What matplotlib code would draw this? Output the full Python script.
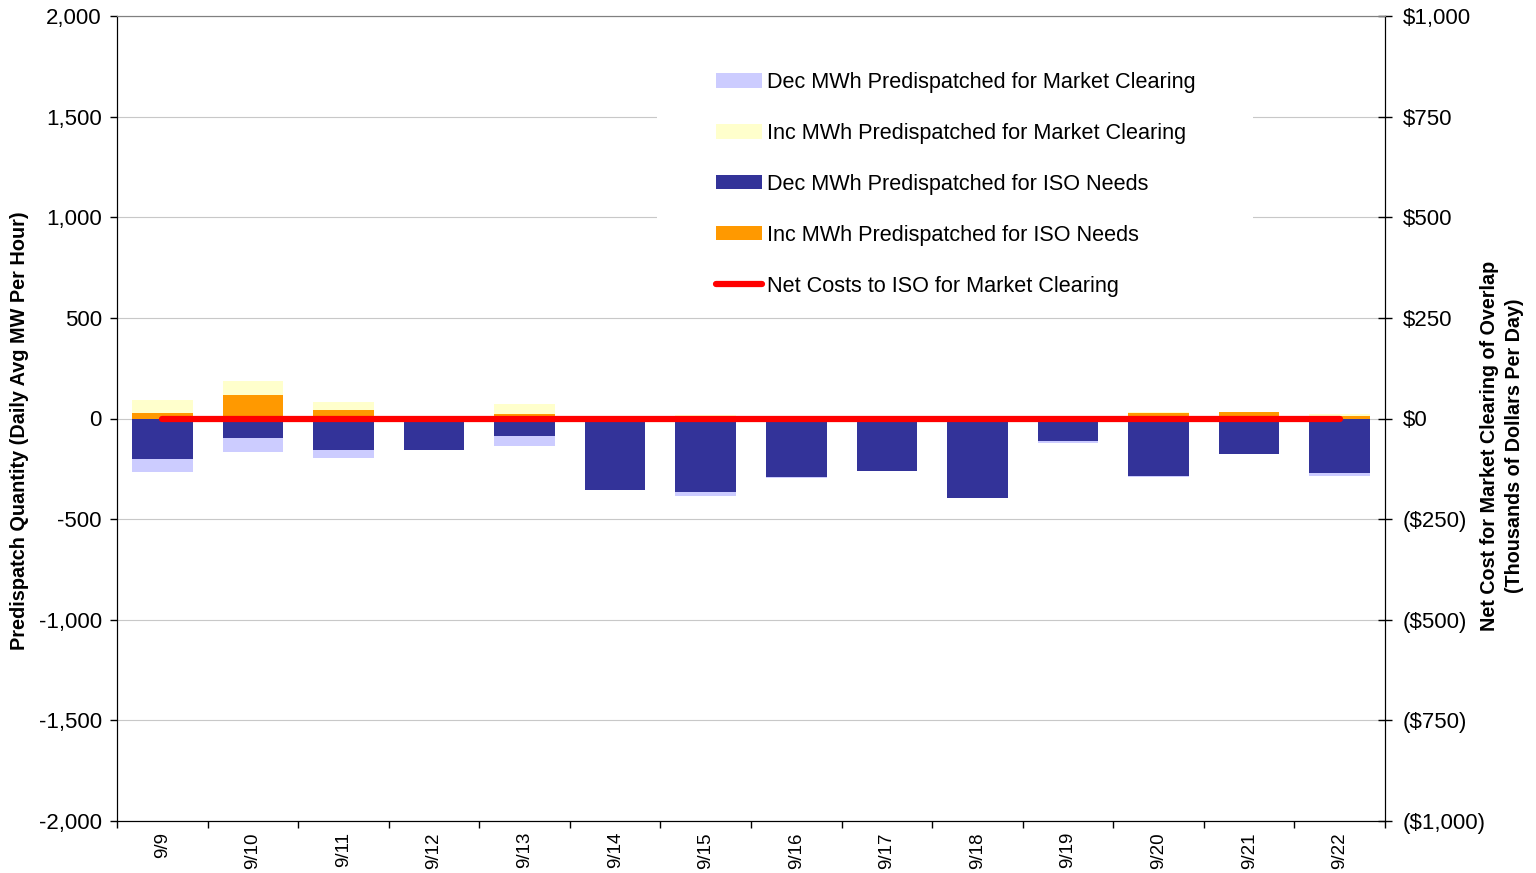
import matplotlib
matplotlib.use('Agg')
import matplotlib.pyplot as plt
from matplotlib.patches import Rectangle
from matplotlib.ticker import FuncFormatter, MultipleLocator
import numpy as np

plt.rcParams['font.family'] = ['Liberation Sans', 'DejaVu Sans']

# data (MW, daily average)
days = ['9/9', '9/10', '9/11', '9/12', '9/13', '9/14', '9/15',
        '9/16', '9/17', '9/18', '9/19', '9/20', '9/21', '9/22']
dec_iso = [-201, -97, -157, -157, -87, -355, -365, -289, -261, -395, -112, -286, -175, -271]
dec_mkt = [-65, -70, -39, 0, -50, 0, -20, -7, 0, 0, -10, -5, 0, -15]
inc_iso = [29, 118, 42, 0, 23, 0, 0, 0, 0, 0, 0, 27, 32, 12]
inc_mkt = [64, 68, 40, 0, 51, 0, 15, 3, 0, 0, 0, 3, 0, 12]
net_cost = [0, 0, 0, 0, 0, 0, 0, 0, 0, 0, 0, 0, 0, 0]  # thousands of $

c_dec_mkt = '#CCCCFF'
c_inc_mkt = '#FFFFCC'
c_dec_iso = '#333399'
c_inc_iso = '#FF9900'

fig = plt.figure(figsize=(15.36, 8.73), dpi=100)
ax = fig.add_axes([117/1536, 1-821/873, (1385-117)/1536, (821-16)/873])
x = np.arange(len(days))
w = 0.67

dec_iso = np.array(dec_iso)
inc_iso = np.array(inc_iso)
b1 = ax.bar(x, dec_mkt, w, bottom=dec_iso, color=c_dec_mkt, zorder=2)
b2 = ax.bar(x, inc_mkt, w, bottom=inc_iso, color=c_inc_mkt, zorder=2)
b3 = ax.bar(x, dec_iso, w, color=c_dec_iso, zorder=2)
b4 = ax.bar(x, inc_iso, w, color=c_inc_iso, zorder=2)

ax.set_xlim(-0.5, len(days) - 0.5)
ax.set_ylim(-2000, 2000)
ax.yaxis.set_major_locator(MultipleLocator(500))
ax.yaxis.set_major_formatter(FuncFormatter(lambda v, p: '{:,.0f}'.format(v)))
ax.grid(axis='y', color='#c8c8c8', lw=0.8, zorder=0)
ax.set_axisbelow(True)
ax.set_xticks(x)
ax.set_xticklabels(days, rotation=90, fontsize=13.5)
ax.set_xticks(np.arange(len(days) + 1) - 0.5, minor=True)
ax.tick_params(axis='x', which='major', length=0, pad=8)
ax.tick_params(axis='x', which='minor', length=5, width=1, direction='out')
ax.tick_params(axis='y', labelsize=16, length=5, width=1, direction='out', pad=6)
ax.spines['top'].set_color('#808080')
ax.set_ylabel('Predispatch Quantity (Daily Avg MW Per Hour)', fontsize=14.3, fontweight='bold')
ax.yaxis.set_label_coords(-88/1268, 0.5 - 12/805)

ax2 = ax.twinx()
ax2.set_ylim(-1000, 1000)
ax2.yaxis.set_major_locator(MultipleLocator(250))
def money(v, p):
    if v < 0:
        return '(${:,.0f})'.format(-v)
    return '${:,.0f}'.format(v)
ax2.yaxis.set_major_formatter(FuncFormatter(money))
ax2.tick_params(axis='y', labelsize=16, length=10, width=1, direction='inout', pad=8)
ln, = ax2.plot(x, net_cost, color='#FF0000', lw=4.5, solid_capstyle='round', zorder=5)
ax2.set_ylabel('Net Cost for Market Clearing of Overlap\n(Thousands of Dollars Per Day)',
               fontsize=14.2, fontweight='bold', linespacing=1.4)
ax2.yaxis.set_label_coords((1480-117)/1268, 0.5 - 27/805)
ax2.spines['top'].set_color('#808080')

# white background behind legend (hides gridlines like the original)
ax2.add_patch(Rectangle(((657-117)/1268, (821-305)/805), (1253-657)/1268, (305-40)/805,
                        transform=ax2.transAxes, facecolor='white', edgecolor='none', zorder=3))

leg = ax2.legend([b1, b2, b3, b4, ln],
                 ['Dec MWh Predispatched for Market Clearing',
                  'Inc MWh Predispatched for Market Clearing',
                  'Dec MWh Predispatched for ISO Needs',
                  'Inc MWh Predispatched for ISO Needs',
                  'Net Costs to ISO for Market Clearing'],
                 loc='upper left', bbox_to_anchor=((716-117)/1268, (821-72)/805),
                 frameon=False, fontsize=15.6, handlelength=2.1, handleheight=0.65,
                 handletextpad=0.25, labelspacing=1.38, borderpad=0, borderaxespad=0)
leg.set_zorder(6)

fig.savefig('out.png', dpi=100)
